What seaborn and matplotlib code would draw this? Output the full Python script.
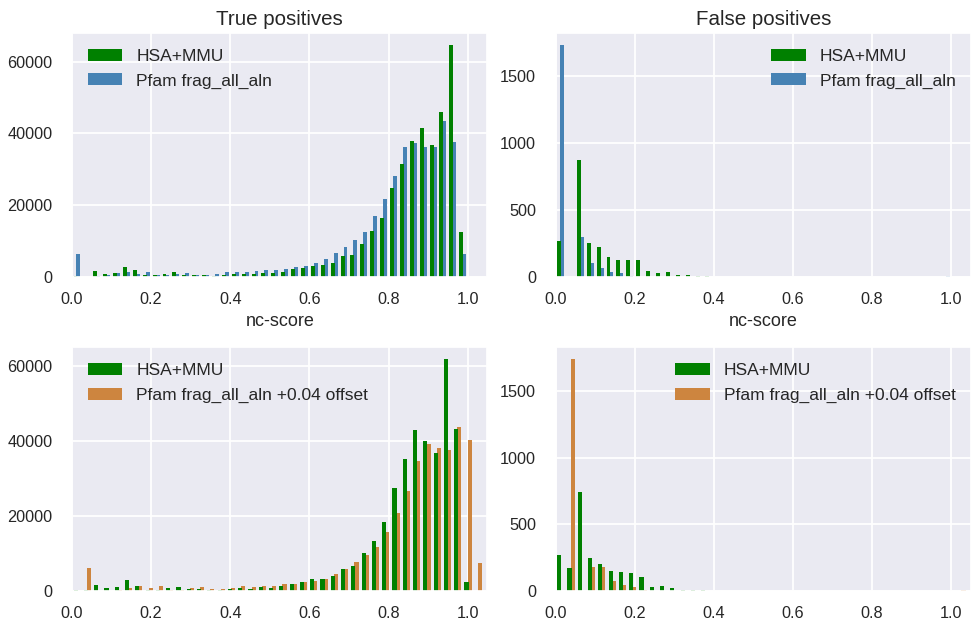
import numpy as np
import pandas as pd
import matplotlib
matplotlib.use("Agg")
import matplotlib.pyplot as plt
from matplotlib.patches import Patch
from matplotlib.colors import to_rgba
import seaborn as sns

# ---- labels -------------------------------------------------------------
panel_titles = ["True positives", "False positives"]
x_label = "nc-score"
hsa_label = "HSA+MMU"
pfam_label = "Pfam frag_all_aln"
pfam_offset_label = "Pfam frag_all_aln +0.04 offset"
x_ticks = [0.0, 0.2, 0.4, 0.6, 0.8, 1.0]

# ---- colours ------------------------------------------------------------
hsa_color = "green"
pfam_color = "steelblue"
pfam_offset_color = "peru"

# ---- bins (40 bins over the score range) ---------------------------------
n_bins = 40
range_plain = (0.0, 1.0)
range_offset = (0.0, 1.04)

# ---- counts per bin: true positives, raw scores --------------------------
tp_hsa = [300, 0, 1600, 750, 1000, 2700, 1900, 500, 500, 750,
          1300, 500, 500, 500, 300, 500, 750, 750, 750, 1000,
          1000, 1300, 2200, 2400, 3000, 3300, 3800, 5800, 6100, 9200,
          12800, 16500, 24700, 31400, 37900, 41500, 36700, 46000, 64800, 12600]
tp_pfam = [6400, 0, 300, 600, 1000, 1300, 750, 1300, 500, 500,
           750, 1000, 500, 500, 750, 1300, 1300, 1300, 1600, 1900,
           1900, 2200, 2700, 3000, 3800, 5000, 6600, 8300, 10300, 12500,
           17000, 21600, 28000, 36200, 37300, 36200, 36200, 43500, 37600, 6400]

# ---- counts per bin: false positives, raw scores -------------------------
fp_hsa = [270, 0, 870, 248, 225, 150, 128, 128, 128, 45,
          30, 38, 15, 15, 8, 8, 0, 0, 0, 0,
          0, 0, 0, 0, 0, 0, 0, 0, 0, 0,
          0, 0, 0, 0, 0, 0, 0, 0, 0, 0]
fp_pfam = [1735, 0, 293, 105, 68, 38, 30, 8, 0, 0,
           0, 0, 0, 0, 0, 0, 0, 0, 0, 0,
           0, 0, 0, 0, 0, 0, 0, 0, 0, 0,
           0, 0, 0, 0, 0, 0, 0, 0, 0, 8]

# ---- counts per bin: true positives, Pfam shifted by +0.04 ---------------
tpo_hsa = [200, 270, 1600, 800, 1070, 2950, 1340, 270, 270, 800,
           1070, 540, 540, 270, 270, 540, 800, 540, 1070, 800,
           1340, 1870, 2400, 3210, 3210, 4020, 5890, 6700, 10180, 13390,
           18480, 27590, 35090, 42860, 39910, 36700, 61880, 43130, 2410, 0]
tpo_pfam = [0, 6200, 0, 100, 270, 800, 1340, 800, 1340, 270,
            270, 800, 1070, 540, 540, 800, 1340, 1070, 1340, 1340,
            1870, 1870, 2400, 2680, 3210, 4550, 5890, 7770, 9640, 11790,
            15800, 20890, 26790, 34550, 39110, 38040, 37500, 43660, 40180, 7500]

# ---- counts per bin: false positives, Pfam shifted by +0.04 --------------
fpo_hsa = [271, 173, 739, 249, 203, 151, 143, 136, 106, 30,
           38, 23, 8, 8, 8, 0, 0, 0, 0, 0,
           0, 0, 0, 0, 0, 0, 0, 0, 0, 0,
           0, 0, 0, 0, 0, 0, 0, 0, 0, 0]
fpo_pfam = [0, 1741, 0, 181, 181, 75, 45, 30, 8, 0,
            0, 0, 0, 0, 0, 0, 0, 0, 0, 0,
            0, 0, 0, 0, 0, 0, 0, 0, 0, 0,
            0, 0, 0, 0, 0, 0, 0, 0, 0, 8]

# ---- style ---------------------------------------------------------------
sns.set_theme(style="darkgrid", context="notebook")
plt.rcParams.update({
    "font.family": ["Liberation Sans", "DejaVu Sans"],
    "xtick.major.pad": 5,
    "ytick.major.pad": 8,
    "axes.labelpad": 4,
    "grid.linewidth": 1.3,
    "axes.titlesize": 14.8,
    "axes.labelsize": 13,
    "xtick.labelsize": 11.7,
    "ytick.labelsize": 11.7,
    "legend.fontsize": 12.5,
})


def binned_frame(bin_range, first, second, names):
    edges = np.linspace(bin_range[0], bin_range[1], n_bins + 1)
    centers = 0.5 * (edges[:-1] + edges[1:])
    return pd.DataFrame({
        "score": np.concatenate([centers, centers]),
        "count": np.concatenate([first, second]).astype(float),
        "series": [names[0]] * len(centers) + [names[1]] * len(centers),
    })


def draw_panel(ax, bin_range, first, second, names, colors, loc, title, xlabel):
    df = binned_frame(bin_range, first, second, names)
    sns.histplot(data=df, x="score", weights="count", hue="series",
                 hue_order=names, bins=n_bins, binrange=bin_range,
                 multiple="dodge", shrink=0.8, palette=colors, alpha=1.0,
                 linewidth=0, legend=False, ax=ax)
    # pair the two bars of each bin side by side
    bw = (bin_range[1] - bin_range[0]) / n_bins
    first_rgba = to_rgba(colors[0])
    for p in ax.patches:
        if np.allclose(p.get_facecolor(), first_rgba, atol=0.01):
            p.set_x(p.get_x() + 0.05 * bw)
        else:
            p.set_x(p.get_x() - 0.05 * bw)
    ax.set_xlim(0, 1.05)
    ax.set_xticks(x_ticks)
    ax.set_xticklabels([f"{t:.1f}" for t in x_ticks])
    ax.set_ylabel("")
    ax.set_xlabel(xlabel)
    ax.set_title(title)
    handles = [Patch(facecolor=c, edgecolor="none", linewidth=0, label=n)
               for c, n in zip(colors, names)]
    ax.legend(handles=handles, loc=loc, frameon=False,
              handlelength=2.0, handletextpad=0.8, borderaxespad=0.5,
              labelspacing=0.55)


fig, axes = plt.subplots(2, 2, figsize=(9.72, 6.24), dpi=100)
fig.subplots_adjust(left=0.0741, right=0.9990, bottom=0.0529, top=0.9471,
                    wspace=0.164, hspace=0.29)

draw_panel(axes[0, 0], range_plain, tp_hsa, tp_pfam,
           [hsa_label, pfam_label], [hsa_color, pfam_color],
           "upper left", panel_titles[0], x_label)
draw_panel(axes[0, 1], range_plain, fp_hsa, fp_pfam,
           [hsa_label, pfam_label], [hsa_color, pfam_color],
           "upper right", panel_titles[1], x_label)
draw_panel(axes[1, 0], range_offset, tpo_hsa, tpo_pfam,
           [hsa_label, pfam_offset_label], [hsa_color, pfam_offset_color],
           "upper left", "", "")
draw_panel(axes[1, 1], range_offset, fpo_hsa, fpo_pfam,
           [hsa_label, pfam_offset_label], [hsa_color, pfam_offset_color],
           "upper right", "", "")

for ax in axes[:, 0]:
    ax.set_yticks([0, 20000, 40000, 60000])
for ax in axes[:, 1]:
    ax.set_yticks([0, 500, 1000, 1500])

fig.savefig("out.png", dpi=100)
